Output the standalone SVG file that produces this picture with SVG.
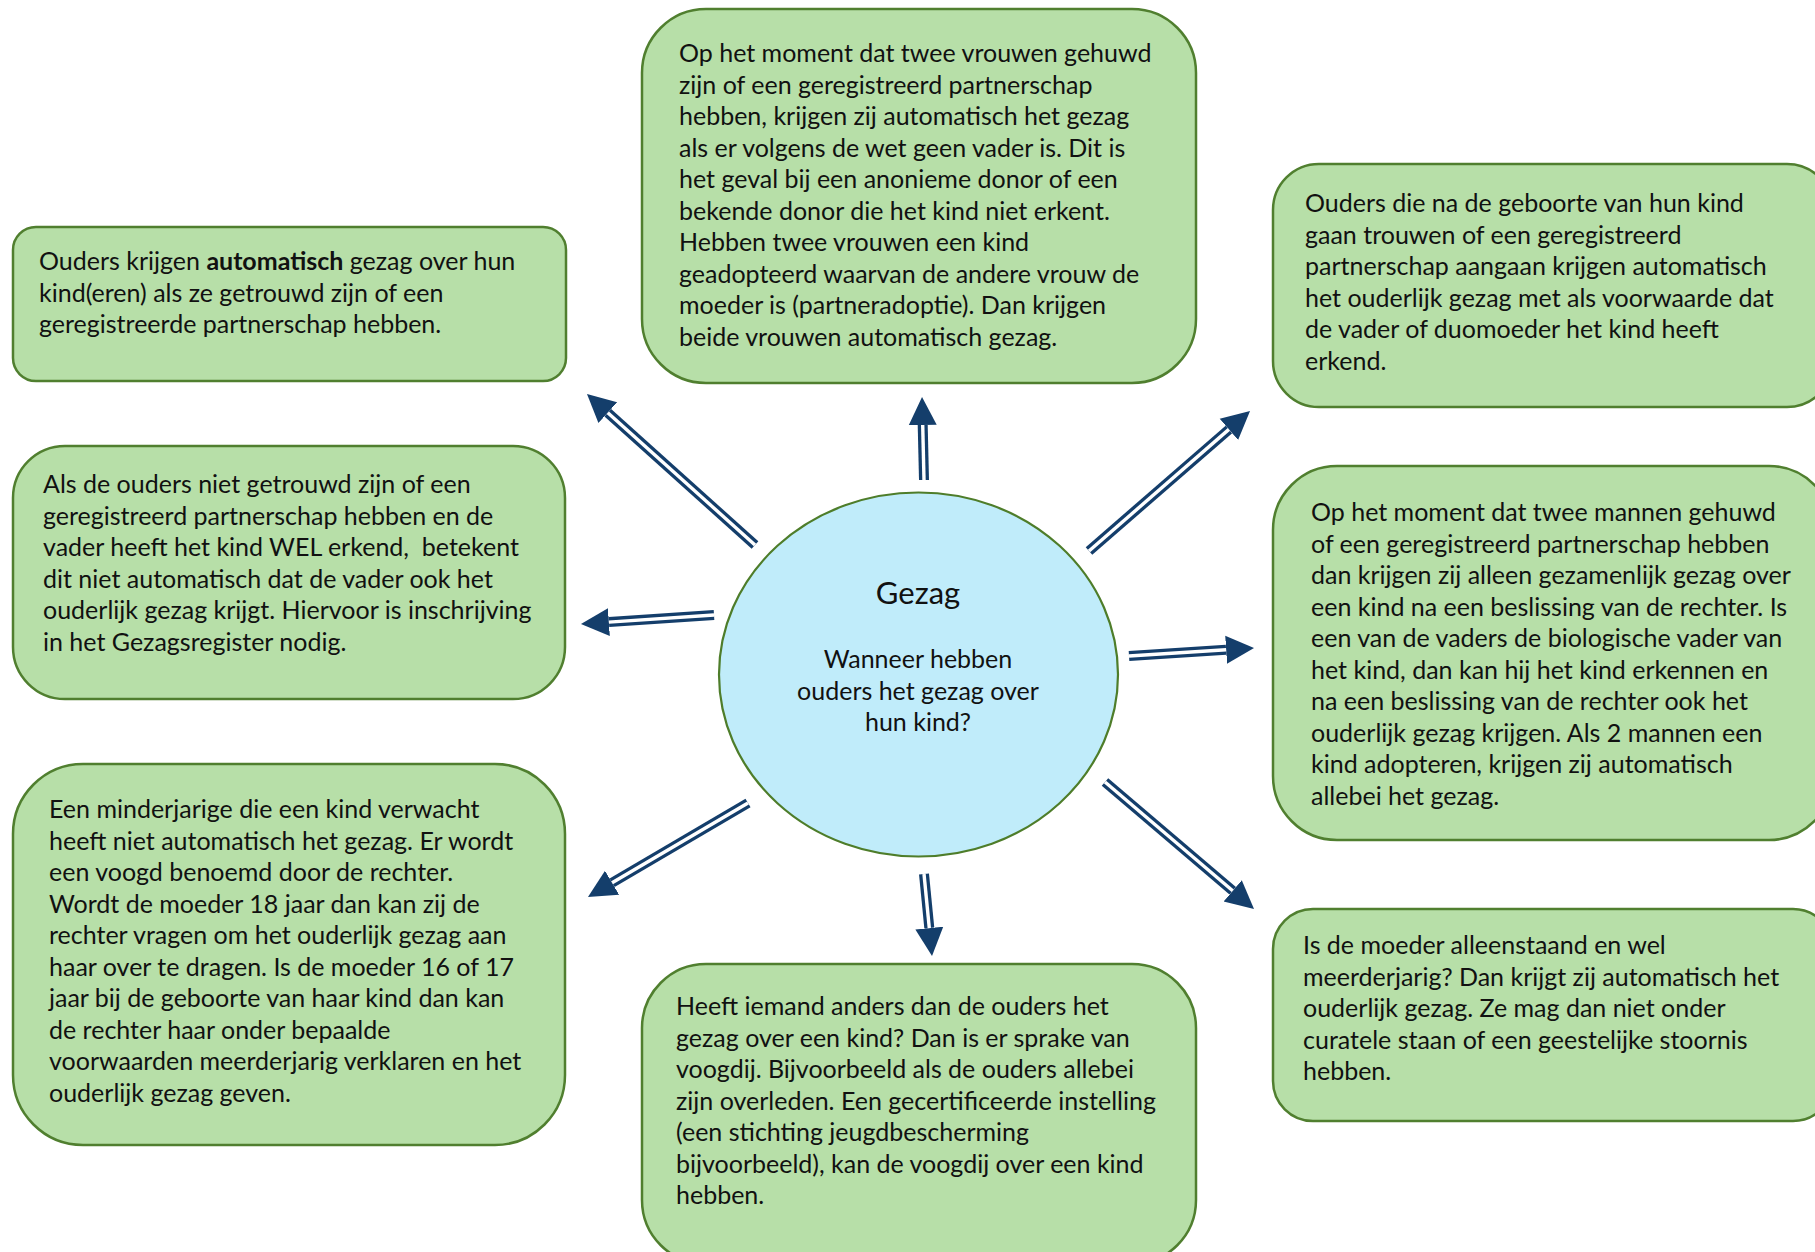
<svg xmlns="http://www.w3.org/2000/svg" width="1815" height="1252" viewBox="0 0 1815 1252">
<defs>
<style>
.box{fill:#b7dfa8;stroke:#507f2f;stroke-width:2.5}
.hub{fill:#c0ecfa;stroke:#4e7d2a;stroke-width:2.2}
.t{font-family:Lato,"Liberation Sans",sans-serif;font-size:25px;fill:#111}
.b{font-weight:bold}
.hubt{font-family:Lato,"Liberation Sans",sans-serif;fill:#111;text-anchor:middle}
.dark{fill:none;stroke:#143e6b;stroke-width:10}
.gap{fill:none;stroke:#fff;stroke-width:3.4}
</style>
<marker id="ah" markerUnits="userSpaceOnUse" markerWidth="30" markerHeight="30" viewBox="0 -15 30 30" refX="0" refY="0" orient="auto">
<path d="M0,-14 L28,0 L0,14 z" fill="#143e6b"/>
</marker>
</defs>

<g id="connectors">
<path class="dark" marker-end="url(#ah)" d="M755,545 L607.8,412.7"/><path class="gap" d="M755,545 L607.8,412.7"/>
<path class="dark" marker-end="url(#ah)" d="M924,480 L922.7,425"/><path class="gap" d="M924,480 L922.7,425"/>
<path class="dark" marker-end="url(#ah)" d="M1089,551 L1228.9,429.4"/><path class="gap" d="M1089,551 L1228.9,429.4"/>
<path class="dark" marker-end="url(#ah)" d="M714,615 L608.9,622.1"/><path class="gap" d="M714,615 L608.9,622.1"/>
<path class="dark" marker-end="url(#ah)" d="M1129,656 L1226.1,649.8"/><path class="gap" d="M1129,656 L1226.1,649.8"/>
<path class="dark" marker-end="url(#ah)" d="M748,803 L612.1,882.8"/><path class="gap" d="M748,803 L612.1,882.8"/>
<path class="dark" marker-end="url(#ah)" d="M924,874 L929.3,928.1"/><path class="gap" d="M924,874 L929.3,928.1"/>
<path class="dark" marker-end="url(#ah)" d="M1105,782 L1232.7,890.8"/><path class="gap" d="M1105,782 L1232.7,890.8"/>
</g>

<g id="hub">
<ellipse class="hub" cx="918.5" cy="674.5" rx="199.5" ry="182"/>
<text class="hubt" x="918" y="604" font-size="31">Gezag</text>
<text class="hubt" x="918" y="668" font-size="25"><tspan x="918">Wanneer hebben</tspan><tspan x="918" dy="31.6">ouders het gezag over</tspan><tspan x="918" dy="31.6">hun kind?</tspan></text>
</g>

<g id="box1">
<rect class="box" x="13" y="227" width="553" height="154" rx="23"/>
<text class="t" x="39" y="270"><tspan x="39">Ouders krijgen <tspan class="b">automatisch</tspan> gezag over hun</tspan><tspan x="39" dy="31.6">kind(eren) als ze getrouwd zijn of een</tspan><tspan x="39" dy="31.6">geregistreerde partnerschap hebben.</tspan></text>
</g>

<g id="box2">
<rect class="box" x="642" y="9" width="554" height="374" rx="64"/>
<text class="t" x="679" y="62"><tspan x="679">Op het moment dat twee vrouwen gehuwd</tspan><tspan x="679" dy="31.5">zijn of een geregistreerd partnerschap</tspan><tspan x="679" dy="31.5">hebben, krijgen zij automatisch het gezag</tspan><tspan x="679" dy="31.5">als er volgens de wet geen vader is. Dit is</tspan><tspan x="679" dy="31.5">het geval bij een anonieme donor of een</tspan><tspan x="679" dy="31.5">bekende donor die het kind niet erkent.</tspan><tspan x="679" dy="31.5">Hebben twee vrouwen een kind</tspan><tspan x="679" dy="31.5">geadopteerd waarvan de andere vrouw de</tspan><tspan x="679" dy="31.5">moeder is (partneradoptie). Dan krijgen</tspan><tspan x="679" dy="31.5">beide vrouwen automatisch gezag.</tspan></text>
</g>

<g id="box3">
<rect class="box" x="1273" y="164" width="560" height="243" rx="46"/>
<text class="t" x="1305" y="212"><tspan x="1305">Ouders die na de geboorte van hun kind</tspan><tspan x="1305" dy="31.5">gaan trouwen of een geregistreerd</tspan><tspan x="1305" dy="31.5">partnerschap aangaan krijgen automatisch</tspan><tspan x="1305" dy="31.5">het ouderlijk gezag met als voorwaarde dat</tspan><tspan x="1305" dy="31.5">de vader of duomoeder het kind heeft</tspan><tspan x="1305" dy="31.5">erkend.</tspan></text>
</g>

<g id="box4">
<rect class="box" x="13" y="446" width="552" height="253" rx="52"/>
<text class="t" x="43" y="493"><tspan x="43">Als de ouders niet getrouwd zijn of een</tspan><tspan x="43" dy="31.5">geregistreerd partnerschap hebben en de</tspan><tspan x="43" dy="31.5" xml:space="preserve">vader heeft het kind WEL erkend,  betekent</tspan><tspan x="43" dy="31.5">dit niet automatisch dat de vader ook het</tspan><tspan x="43" dy="31.5">ouderlijk gezag krijgt. Hiervoor is inschrijving</tspan><tspan x="43" dy="31.5">in het Gezagsregister nodig.</tspan></text>
</g>

<g id="box5">
<rect class="box" x="1273" y="466" width="560" height="374" rx="64"/>
<text class="t" x="1311" y="521"><tspan x="1311">Op het moment dat twee mannen gehuwd</tspan><tspan x="1311" dy="31.5">of een geregistreerd partnerschap hebben</tspan><tspan x="1311" dy="31.5">dan krijgen zij alleen gezamenlijk gezag over</tspan><tspan x="1311" dy="31.5">een kind na een beslissing van de rechter. Is</tspan><tspan x="1311" dy="31.5">een van de vaders de biologische vader van</tspan><tspan x="1311" dy="31.5">het kind, dan kan hij het kind erkennen en</tspan><tspan x="1311" dy="31.5">na een beslissing van de rechter ook het</tspan><tspan x="1311" dy="31.5">ouderlijk gezag krijgen. Als 2 mannen een</tspan><tspan x="1311" dy="31.5">kind adopteren, krijgen zij automatisch</tspan><tspan x="1311" dy="31.5">allebei het gezag.</tspan></text>
</g>

<g id="box6">
<rect class="box" x="13" y="764" width="552" height="381" rx="70"/>
<text class="t" x="49" y="818"><tspan x="49">Een minderjarige die een kind verwacht</tspan><tspan x="49" dy="31.5">heeft niet automatisch het gezag. Er wordt</tspan><tspan x="49" dy="31.5">een voogd benoemd door de rechter.</tspan><tspan x="49" dy="31.5">Wordt de moeder 18 jaar dan kan zij de</tspan><tspan x="49" dy="31.5">rechter vragen om het ouderlijk gezag aan</tspan><tspan x="49" dy="31.5">haar over te dragen. Is de moeder 16 of 17</tspan><tspan x="49" dy="31.5">jaar bij de geboorte van haar kind dan kan</tspan><tspan x="49" dy="31.5">de rechter haar onder bepaalde</tspan><tspan x="49" dy="31.5">voorwaarden meerderjarig verklaren en het</tspan><tspan x="49" dy="31.5">ouderlijk gezag geven.</tspan></text>
</g>

<g id="box7">
<rect class="box" x="642" y="964" width="554" height="300" rx="64"/>
<text class="t" x="676" y="1015"><tspan x="676">Heeft iemand anders dan de ouders het</tspan><tspan x="676" dy="31.5">gezag over een kind? Dan is er sprake van</tspan><tspan x="676" dy="31.5">voogdij. Bijvoorbeeld als de ouders allebei</tspan><tspan x="676" dy="31.5">zijn overleden. Een gecertificeerde instelling</tspan><tspan x="676" dy="31.5">(een stichting jeugdbescherming</tspan><tspan x="676" dy="31.5">bijvoorbeeld), kan de voogdij over een kind</tspan><tspan x="676" dy="31.5">hebben.</tspan></text>
</g>

<g id="box8">
<rect class="box" x="1273" y="909" width="560" height="212" rx="40"/>
<text class="t" x="1303" y="954"><tspan x="1303">Is de moeder alleenstaand en wel</tspan><tspan x="1303" dy="31.5">meerderjarig? Dan krijgt zij automatisch het</tspan><tspan x="1303" dy="31.5">ouderlijk gezag. Ze mag dan niet onder</tspan><tspan x="1303" dy="31.5">curatele staan of een geestelijke stoornis</tspan><tspan x="1303" dy="31.5">hebben.</tspan></text>
</g>
</svg>
